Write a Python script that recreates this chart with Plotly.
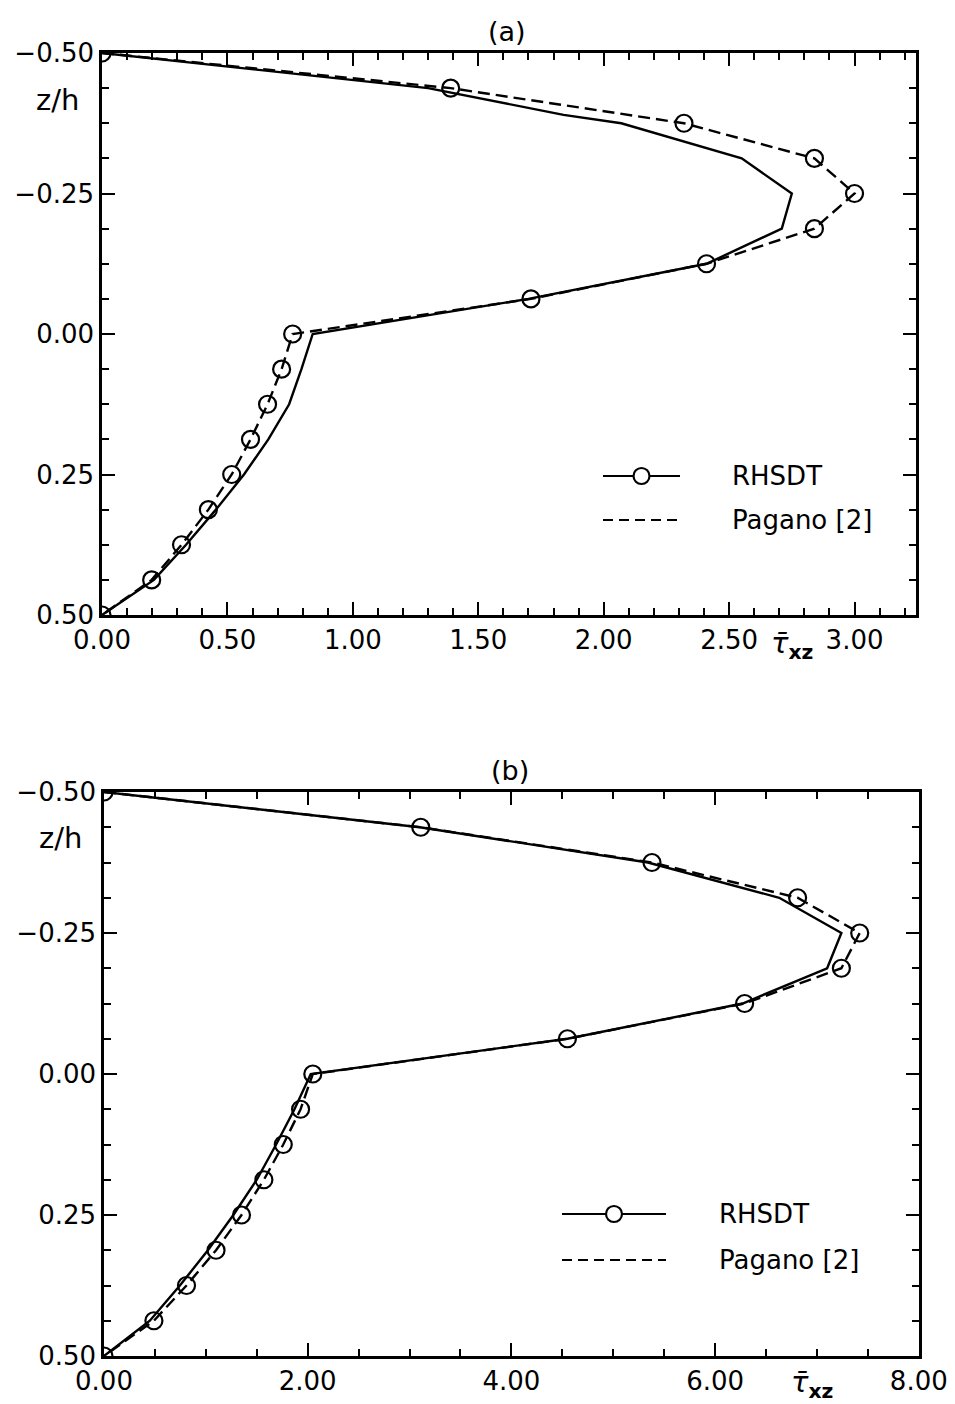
import plotly.graph_objects as go

W, H = 955, 1404

# ---------------- data ----------------
z_grid = [-0.5, -0.4375, -0.375, -0.3125, -0.25, -0.1875, -0.125, -0.0625,
          0.0, 0.0625, 0.125, 0.1875, 0.25, 0.3125, 0.375, 0.4375, 0.5]

# panel (a)
tau_a_circles = [0.00, 1.39, 2.32, 2.84, 3.00, 2.84, 2.41, 1.71,
                 0.76, 0.716, 0.66, 0.592, 0.517, 0.424, 0.317, 0.198, 0.00]
z_a_solid = [-0.5, -0.4375, -0.39, -0.375, -0.3125, -0.25, -0.1875, -0.125, -0.0625,
             0.0, 0.0625, 0.125, 0.1875, 0.25, 0.3125, 0.375, 0.4375, 0.5]
tau_a_solid = [0.00, 1.30, 1.84, 2.07, 2.55, 2.75, 2.71, 2.41, 1.70,
               0.84, 0.795, 0.746, 0.663, 0.566, 0.454, 0.335, 0.207, 0.00]

# panel (b)
tau_b_circles = [0.00, 3.11, 5.38, 6.81, 7.42, 7.24, 6.29, 4.55,
                 2.05, 1.93, 1.76, 1.57, 1.35, 1.10, 0.81, 0.49, 0.00]
tau_b_solid = [0.00, 3.10, 5.34, 6.63, 7.24, 7.10, 6.27, 4.55,
               2.03, 1.87, 1.69, 1.50, 1.27, 1.02, 0.745, 0.45, 0.00]

y_ticks = [-0.5, -0.25, 0.0, 0.25, 0.5]
x_ticks_a = [0.0, 0.5, 1.0, 1.5, 2.0, 2.5, 3.0]
x_ticks_b = [0.0, 2.0, 4.0, 6.0, 8.0]
legend_names = ["RHSDT", "Pagano [2]"]

# ---------------- layout helpers ----------------
def px(x):
    return x / W

def py(y):
    return 1 - y / H

FONT = "DejaVu Sans"
fig = go.Figure()

LW = 2.4
# panel (a)
fig.add_trace(go.Scatter(x=tau_a_solid, y=z_a_solid, mode="lines",
                         line=dict(color="black", width=LW), showlegend=False,
                         xaxis="x", yaxis="y"))
fig.add_trace(go.Scatter(x=tau_a_circles, y=z_grid, mode="lines+markers",
                         line=dict(color="black", width=LW, dash="12px,6px"),
                         marker=dict(symbol="circle-open", size=17, color="black",
                                     line=dict(width=2.2, color="black")),
                         showlegend=False, xaxis="x", yaxis="y"))
# panel (b)
fig.add_trace(go.Scatter(x=tau_b_solid, y=z_grid, mode="lines",
                         line=dict(color="black", width=LW), showlegend=False,
                         xaxis="x2", yaxis="y2"))
fig.add_trace(go.Scatter(x=tau_b_circles, y=z_grid, mode="lines+markers",
                         line=dict(color="black", width=LW, dash="12px,6px"),
                         marker=dict(symbol="circle-open", size=17, color="black",
                                     line=dict(width=2.2, color="black")),
                         showlegend=False, xaxis="x2", yaxis="y2"))

tickfont = dict(family=FONT, size=26, color="black")

def xaxis(domain, rng, ticks, minor_dt, anchor):
    return dict(domain=domain, range=rng, tickvals=ticks,
                ticktext=["%.2f" % t for t in ticks], automargin=False,
                showgrid=False, zeroline=False, showline=True, linecolor="black",
                linewidth=2.5, mirror="allticks", ticks="inside", ticklen=13,
                tickwidth=2, tickcolor="black", tickfont=tickfont, anchor=anchor,
                minor=dict(dtick=minor_dt, tick0=0, ticks="inside", ticklen=7,
                           tickwidth=2, tickcolor="black", showgrid=False),
                fixedrange=True)

def yaxis(domain, anchor):
    return dict(domain=domain, range=[0.5, -0.5], tickvals=y_ticks,
                ticktext=[("\u2212%.2f" % abs(t)) if t < 0 else "%.2f" % t for t in y_ticks],
                automargin=False,
                showgrid=False, zeroline=False, showline=True, linecolor="black",
                linewidth=2.5, mirror="allticks", ticks="inside", ticklen=13,
                tickwidth=2, tickcolor="black", tickfont=tickfont, anchor=anchor,
                minor=dict(dtick=0.0625, tick0=0, ticks="inside", ticklen=7,
                           tickwidth=2, tickcolor="black", showgrid=False),
                fixedrange=True)

fig.update_layout(
    width=W, height=H,
    margin=dict(l=0, r=0, t=0, b=0, pad=0, autoexpand=False),
    paper_bgcolor="white", plot_bgcolor="white",
    showlegend=False,
    xaxis=xaxis([px(102), px(916)], [0, 3.245], x_ticks_a, 0.1, "y"),
    yaxis=yaxis([py(615), py(53)], "x"),
    xaxis2=xaxis([px(104), px(919)], [0, 8.002], x_ticks_b, 0.5, "y2"),
    yaxis2=yaxis([py(1356), py(792)], "x2"),
)

ann = []
def text(x, y, s, size=26, xanchor="center"):
    ann.append(dict(x=px(x), y=py(y), xref="paper", yref="paper", text=s,
                    showarrow=False, xanchor=xanchor, yanchor="middle",
                    font=dict(family=FONT, size=size, color="black")))

text(507, 32, "(a)", size=27)
text(510, 770, "(b)", size=27)
text(57, 100, "z/h", size=29)
text(60, 838, "z/h", size=29)
tau_lbl = "<i>\u03c4\u0304</i><sub><b>xz</b></sub>"
text(792, 645, tau_lbl, size=29)
text(812, 1384, tau_lbl, size=29)

shapes = []
def legend(x0, x1, y1, y2, xt):
    xc = (x0 + x1) / 2
    shapes.append(dict(type="line", xref="paper", yref="paper",
                       x0=px(x0), x1=px(x1), y0=py(y1), y1=py(y1),
                       line=dict(color="black", width=2.2)))
    shapes.append(dict(type="circle", xref="paper", yref="paper",
                       x0=px(xc - 8), x1=px(xc + 8), y0=py(y1 + 8), y1=py(y1 - 8),
                       line=dict(color="black", width=2.2), fillcolor="white"))
    shapes.append(dict(type="line", xref="paper", yref="paper",
                       x0=px(x0), x1=px(x1), y0=py(y2), y1=py(y2),
                       line=dict(color="black", width=2.2, dash="10px,6px")))
    text(xt, y1, legend_names[0], xanchor="left")
    text(xt, y2, legend_names[1], xanchor="left")

legend(603, 680, 476, 520, 730)
legend(562, 666, 1214, 1260, 717)

fig.update_layout(annotations=ann, shapes=shapes)
fig.write_html("out.html")
